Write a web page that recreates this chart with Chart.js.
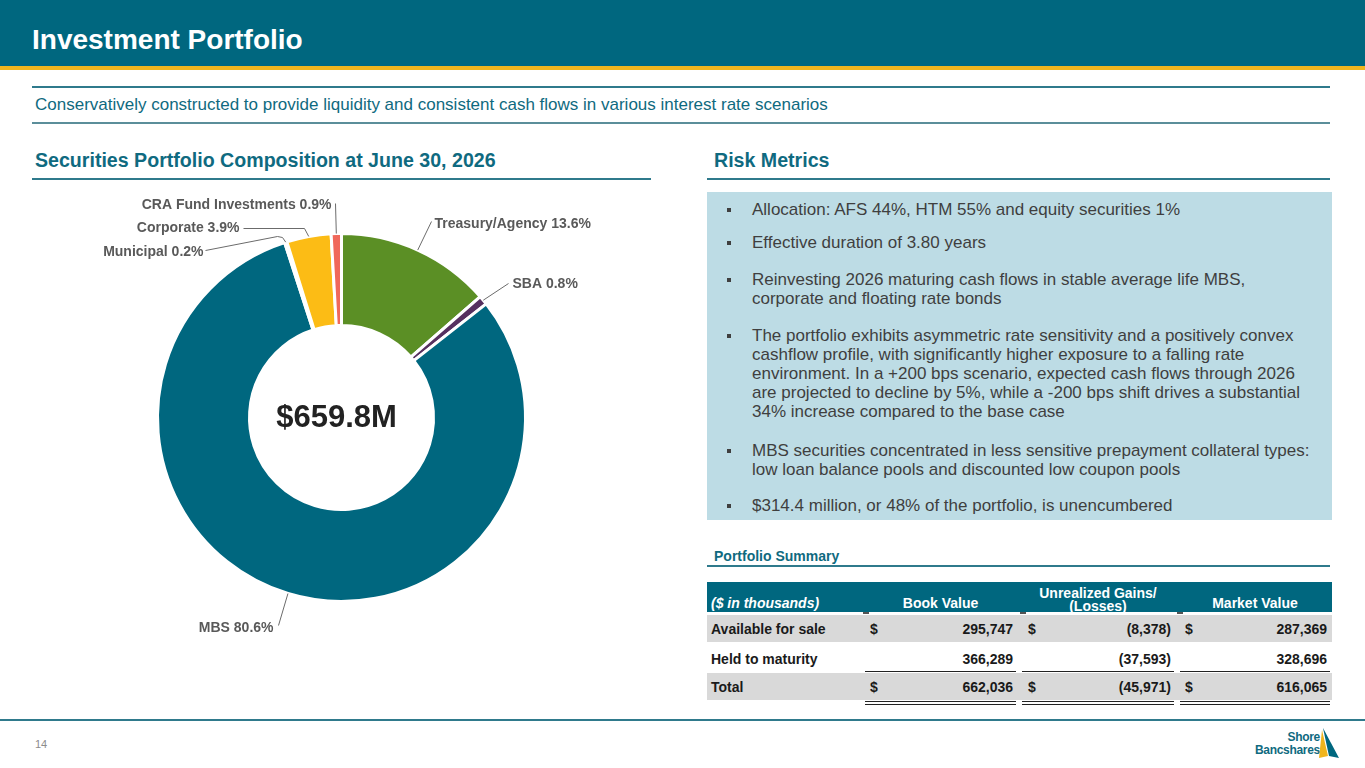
<!DOCTYPE html>
<html>
<head>
<meta charset="utf-8">
<script src="https://cdn.jsdelivr.net/npm/chart.js@4.4.0/dist/chart.umd.min.js"></script>
<style>
  html,body{margin:0;padding:0;background:#fff;}
  body{width:1365px;height:768px;position:relative;overflow:hidden;font-family:"Liberation Sans",Arial,sans-serif;}
  .abs{position:absolute;}
  #header{left:0;top:0;width:1365px;height:66px;background:#00677f;}
  #goldbar{left:0;top:66px;width:1365px;height:4px;background:#f0b51e;}
  #title{left:32px;top:23px;color:#fff;font-weight:bold;font-size:28px;line-height:34px;white-space:nowrap;}
  .hline{height:2px;background:#2f7a8c;}
  #subtitle{left:35px;top:95px;color:#0f6a80;font-size:17px;line-height:20px;white-space:nowrap;}
  .sect{color:#0f6a80;font-weight:bold;font-size:19.6px;line-height:22px;white-space:nowrap;}
  #riskbox{left:707px;top:192px;width:625px;height:328px;background:#bddce5;}
  .bul{left:727px;color:#3f3f3f;font-size:17px;line-height:19px;white-space:nowrap;}
  .bul .m{position:absolute;left:0;top:8px;width:4px;height:4px;background:#3f3f3f;}
  .bul .t{position:absolute;left:25px;top:0;}
  #psum{left:714px;top:548px;color:#0f6a80;font-weight:bold;font-size:14px;line-height:16px;}
  #thead{left:707px;top:582px;width:625px;height:30px;background:#00677f;}
  .th{color:#fff;font-weight:bold;font-size:14px;line-height:14px;white-space:nowrap;text-align:center;}
  .cell{font-weight:bold;font-size:14px;color:#1a1a1a;white-space:nowrap;line-height:16px;}
  .ul{height:1px;background:#222;}
  #chartBox{left:32px;top:190px;width:620px;height:500px;}
  #pagenum{left:35px;top:738px;color:#8c8c8c;font-size:11px;}
</style>
</head>
<body>
<div id="header" class="abs"></div>
<div id="goldbar" class="abs"></div>
<div id="title" class="abs">Investment Portfolio</div>

<div class="abs hline" style="left:32px;top:86px;width:1298px;"></div>
<div id="subtitle" class="abs">Conservatively constructed to provide liquidity and consistent cash flows in various interest rate scenarios</div>
<div class="abs hline" style="left:32px;top:122px;width:1298px;background:#5b8e9a;"></div>

<div class="abs sect" style="left:35px;top:149px;">Securities Portfolio Composition at June 30, 2026</div>
<div class="abs hline" style="left:32px;top:178px;width:619px;"></div>
<div class="abs sect" style="left:714px;top:149px;">Risk Metrics</div>
<div class="abs hline" style="left:707px;top:178px;width:623px;"></div>

<div id="riskbox" class="abs"></div>
<div id="bullets"></div>

<div id="psum" class="abs">Portfolio Summary</div>
<div class="abs hline" style="left:707px;top:565px;width:623px;"></div>
<div id="thead" class="abs"></div>
<div id="table"></div>

<div id="chartBox" class="abs"><canvas id="c"></canvas></div>

<div class="abs" style="left:0;top:719px;width:1365px;height:2px;background:#2f7a8c;"></div>
<div id="pagenum" class="abs">14</div>
<div class="abs" style="left:1250px;top:731px;width:70px;text-align:right;color:#0f6a80;font-weight:bold;font-size:12px;line-height:13px;letter-spacing:-0.3px;">Shore<br>Bancshares</div>
<svg class="abs" style="left:1316px;top:726px;" width="26" height="36" viewBox="0 0 26 36">
  <polygon points="6,4 3,32 12,30" fill="#f0b51e"/>
  <polygon points="7,2 23,32 13,30" fill="#00677f"/>
</svg>

<script>
// ---- Chart data ----
const categories = ['Treasury/Agency', 'SBA', 'MBS', 'Municipal', 'Corporate', 'CRA Fund Investments'];
const shares = [13.6, 0.8, 80.6, 0.2, 3.9, 0.9];
const sliceColors = ['#5b8f25', '#56305f', '#00677f', '#00677f', '#fcbc15', '#f0685a'];
const centerLabel = '$659.8M';

// ---- Risk metric bullets ----
const bulletLines = [
  ['Allocation: AFS 44%, HTM 55% and equity securities 1%'],
  ['Effective duration of 3.80 years'],
  ['Reinvesting 2026 maturing cash flows in stable average life MBS,', 'corporate and floating rate bonds'],
  ['The portfolio exhibits asymmetric rate sensitivity and a positively convex',
   'cashflow profile, with significantly higher exposure to a falling rate',
   'environment. In a +200 bps scenario, expected cash flows through 2026',
   'are projected to decline by 5%, while a -200 bps shift drives a substantial',
   '34% increase compared to the base case'],
  ['MBS securities concentrated in less sensitive prepayment collateral types:',
   'low loan balance pools and discounted low coupon pools'],
  ['$314.4 million, or 48% of the portfolio, is unencumbered']
];

// ---- Portfolio summary table ----
const tableHeaders = ['($ in thousands)', 'Book Value', 'Unrealized Gains/<br>(Losses)', 'Market Value'];
const rowLabels = ['Available for sale', 'Held to maturity', 'Total'];
const bookValues = ['295,747', '366,289', '662,036'];
const gainsLosses = ['(8,378)', '(37,593)', '(45,971)'];
const marketValues = ['287,369', '328,696', '616,065'];
const showDollar = [true, false, true];

// build bullets
(function(){
  const tops = [200, 233, 270, 326, 441, 496];
  const host = document.getElementById('bullets');
  bulletLines.forEach((lines, i) => {
    const d = document.createElement('div');
    d.className = 'abs bul';
    d.style.top = tops[i] + 'px';
    d.style.height = (lines.length * 19) + 'px';
    d.innerHTML = '<span class="m"></span><span class="t">' + lines.join('<br>') + '</span>';
    host.appendChild(d);
  });
})();

// build table
(function(){
  const host = document.getElementById('table');
  const add = (html, style, cls) => {
    const d = document.createElement('div');
    d.className = 'abs ' + (cls || '');
    d.setAttribute('style', style);
    d.innerHTML = html;
    host.appendChild(d);
    return d;
  };
  add(tableHeaders[0], 'left:711px;top:596px;text-align:left;font-style:italic;', 'th');
  add(tableHeaders[1], 'left:865px;top:596px;width:151px;', 'th');
  add(tableHeaders[2], 'left:1022px;top:587px;width:152px;line-height:13px;', 'th');
  add(tableHeaders[3], 'left:1180px;top:596px;width:150px;', 'th');
  [863, 1020, 1177].forEach(x => add('', 'left:' + x + 'px;top:612px;width:6px;height:2px;background:#555;'));
  const rowTops = [615, 645, 673];
  const rowH = [27, 27, 27];
  const bg = ['#d9d9d9', '#ffffff', '#d9d9d9'];
  rowLabels.forEach((lab, i) => {
    add('', 'left:707px;top:' + rowTops[i] + 'px;width:625px;height:' + rowH[i] + 'px;background:' + bg[i] + ';');
    const ty = rowTops[i] + 6;
    add(lab, 'left:711px;top:' + ty + 'px;', 'cell');
    if (showDollar[i]) {
      add('$', 'left:870px;top:' + ty + 'px;', 'cell');
      add('$', 'left:1028px;top:' + ty + 'px;', 'cell');
      add('$', 'left:1185px;top:' + ty + 'px;', 'cell');
    }
    add(bookValues[i], 'left:900px;width:113px;text-align:right;top:' + ty + 'px;', 'cell');
    add(gainsLosses[i], 'left:1050px;width:121px;text-align:right;top:' + ty + 'px;', 'cell');
    add(marketValues[i], 'left:1210px;width:117px;text-align:right;top:' + ty + 'px;', 'cell');
  });
  const segs = [[865, 151], [1022, 152], [1180, 150]];
  segs.forEach(s => {
    add('', 'left:' + s[0] + 'px;top:671px;width:' + s[1] + 'px;', 'ul');
    add('', 'left:' + s[0] + 'px;top:701px;width:' + s[1] + 'px;', 'ul');
    add('', 'left:' + s[0] + 'px;top:704px;width:' + s[1] + 'px;', 'ul');
  });
})();

// leader-line layout (relative to chart centre): polyline points, text point, alignment
const labelLayout = [
  {pts: [[90, -196]], text: [93, -193], align: 'left'},
  {pts: [[167, -134]], text: [171, -133], align: 'left'},
  {pts: [[-63, 208]], text: [-68, 211], align: 'right'},
  {pts: [[-59, -180], [-64, -181], [-136, -167]], text: [-138, -165], align: 'right'},
  {pts: [[-37, -189], [-98, -189]], text: [-102, -189], align: 'right'},
  {pts: [[-6, -214]], text: [-10, -212], align: 'right'}
];

const labelPlugin = {
  id: 'sliceLabels',
  afterDatasetsDraw(chart) {
    const ctx = chart.ctx;
    const meta = chart.getDatasetMeta(0);
    ctx.save();
    ctx.strokeStyle = '#6b6b6b';
    ctx.lineWidth = 1;
    ctx.fillStyle = '#595959';
    ctx.font = 'bold 14px "Liberation Sans", Arial, sans-serif';
    ctx.textBaseline = 'middle';
    meta.data.forEach((arc, i) => {
      const p = arc.getProps(['x', 'y', 'startAngle', 'endAngle', 'outerRadius'], true);
      const mid = (p.startAngle + p.endAngle) / 2;
      const ax = p.x + Math.cos(mid) * p.outerRadius;
      const ay = p.y + Math.sin(mid) * p.outerRadius;
      const lay = labelLayout[i];
      ctx.beginPath();
      ctx.moveTo(ax, ay);
      lay.pts.forEach(q => ctx.lineTo(p.x + q[0], p.y + q[1]));
      ctx.stroke();
      ctx.textAlign = lay.align;
      ctx.fillText(categories[i] + ' ' + shares[i].toFixed(1) + '%', p.x + lay.text[0], p.y + lay.text[1]);
    });
    const c = meta.data[0];
    ctx.fillStyle = '#222222';
    ctx.font = 'bold 31px "Liberation Sans", Arial, sans-serif';
    ctx.textAlign = 'center';
    ctx.fillText(centerLabel, c.x - 5, c.y + 1);
    ctx.restore();
  }
};

new Chart(document.getElementById('c'), {
  type: 'doughnut',
  data: {
    labels: categories,
    datasets: [{
      data: shares,
      backgroundColor: sliceColors,
      borderColor: '#ffffff',
      borderWidth: 3
    }]
  },
  options: {
    responsive: true,
    maintainAspectRatio: false,
    animation: false,
    cutout: '50%',
    layout: {padding: {top: 42, bottom: 87, left: 124, right: 125}},
    plugins: {legend: {display: false}, tooltip: {enabled: false}}
  },
  plugins: [labelPlugin]
});
</script>
</body>
</html>
